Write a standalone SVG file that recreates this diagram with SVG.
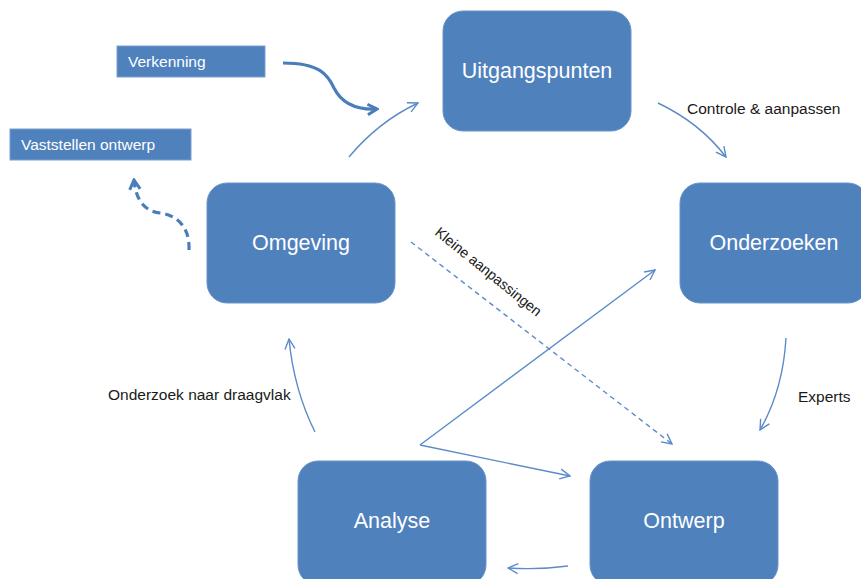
<svg xmlns="http://www.w3.org/2000/svg" width="861" height="579" viewBox="0 0 861 579">
<defs>
<style>
.node rect{fill:#4F81BD;stroke:#6a93c8;stroke-width:1}
.node text{fill:#ffffff;font-family:"Liberation Sans",Arial,sans-serif;font-size:21.5px;text-anchor:middle;dominant-baseline:central}
.lbl rect{fill:#4F81BD;stroke:#7b9fd0;stroke-width:1}
.lbl text{fill:#ffffff;font-family:"Liberation Sans",Arial,sans-serif;font-size:15.5px}
.c{fill:none;stroke:#5B8BC9;stroke-width:1.4;marker-end:url(#open)}
.d{fill:none;stroke:#5B8BC9;stroke-width:1.4;stroke-dasharray:5 4;marker-end:url(#open)}
.thick{fill:none;stroke:#4A7EBB;stroke-width:3.2;marker-end:url(#openThick)}
.thickd{fill:none;stroke:#4A7EBB;stroke-width:3.2;stroke-dasharray:8 5;marker-end:url(#openThick)}
.t{fill:#1a1a1a;font-family:"Liberation Sans",Arial,sans-serif;font-size:15.5px}
</style>
<marker id="open" viewBox="0 0 12 12" refX="11" refY="6" markerWidth="12" markerHeight="12" markerUnits="userSpaceOnUse" orient="auto">
<path d="M1,1 L11,6 L1,11" fill="none" stroke="#5B8BC9" stroke-width="1.4"/>
</marker>
<marker id="openThick" viewBox="0 0 12 12" refX="10" refY="6" markerWidth="14" markerHeight="14" markerUnits="userSpaceOnUse" orient="auto">
<path d="M2,1.5 L10,6 L2,10.5" fill="none" stroke="#4A7EBB" stroke-width="2.6"/>
</marker>
</defs>
<rect width="861" height="579" fill="#ffffff"/>
<g id="connectors">
<path class="c" d="M349,157 Q378,122 418,103"/>
<path class="c" d="M658,103 Q700,123 726,157"/>
<path class="c" d="M786,338 Q783,390 760,430"/>
<path class="c" d="M568,566 Q538,570 508,568"/>
<path class="c" d="M315,432 Q294,390 289,339"/>
<path class="c" d="M420,445 L655,270"/>
<path class="c" d="M420,445 L570,476"/>
<path class="d" d="M411,242 L672,444"/>
<path class="thick" d="M283,63 C320,63 328,75 334,88 C342,104 358,110 377,109"/>
<path class="thickd" d="M189,250 C190,226 176,215 160,213 C144,211 136,200 134,180"/>
</g>
<g id="n-uitgangspunten" class="node"><rect x="443" y="11" width="188" height="120" rx="20"/><text x="537" y="71">Uitgangspunten</text></g>
<g id="n-onderzoeken" class="node"><rect x="680" y="183" width="188" height="120" rx="20"/><text x="774" y="243">Onderzoeken</text></g>
<g id="n-omgeving" class="node"><rect x="207" y="183" width="188" height="120" rx="20"/><text x="301" y="243">Omgeving</text></g>
<g id="n-analyse" class="node"><rect x="298" y="461" width="188" height="124" rx="20"/><text x="392" y="521">Analyse</text></g>
<g id="n-ontwerp" class="node"><rect x="590" y="461" width="188" height="124" rx="20"/><text x="684" y="521">Ontwerp</text></g>
<g id="n-verkenning" class="lbl"><rect x="117" y="46" width="148" height="31"/><text x="128" y="67">Verkenning</text></g>
<g id="n-vaststellen" class="lbl"><rect x="10" y="129" width="181" height="31"/><text x="21" y="150">Vaststellen ontwerp</text></g>
<g id="labels">
<text class="t" x="687" y="114">Controle &amp; aanpassen</text>
<text class="t" x="798" y="402">Experts</text>
<text class="t" x="108" y="400">Onderzoek naar draagvlak</text>
<text class="t" transform="translate(434,234) rotate(39)" style="font-size:14.5px" textLength="132" lengthAdjust="spacingAndGlyphs">Kleine aanpassingen</text>
</g>
</svg>
